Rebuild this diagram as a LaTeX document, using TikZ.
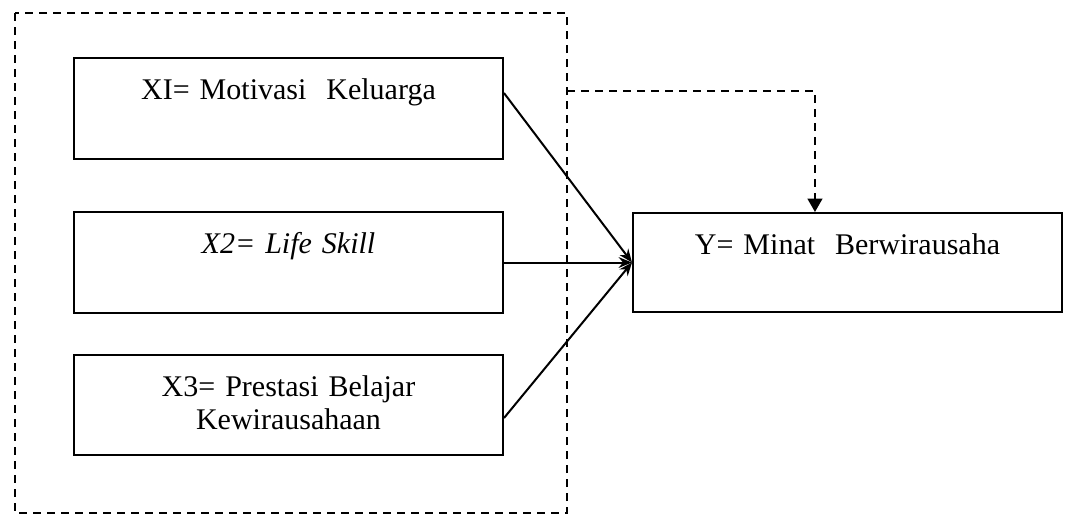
\documentclass[tikz,border=0pt]{standalone}
\usepackage{fontspec}
\setmainfont{Liberation Serif}
\usepackage{tikz}
\usetikzlibrary{arrows.meta}

\begin{document}
\begin{tikzpicture}[x=0.75pt, y=-0.75pt,
        box/.style={draw, line width=1.5pt, anchor=north west, inner sep=0pt,
            minimum width=321.75pt, text width=321.75pt, align=center,
            text height=30.75pt, text depth=45pt},
        frame/.style={draw, line width=1.5pt, dash pattern=on 6pt off 4.5pt},
        link/.style={line width=1.5pt, -{Stealth[length=10pt, width=8pt]}}]
        \useasboundingbox (0,0) rectangle (1066,515);
        \fontsize{22.5pt}{24.75pt}\selectfont

        \draw[frame] (15,13) rectangle (567,513);
        \coordinate (corner) at (567,91);

        \node[box] (x1) at (73,57) {XI= Motivasi\ \ Keluarga};
        \node[box] (x2) at (73,211) {\textit{X2= Life Skill}};
        \node[box, text depth=44.25pt] (x3) at (73,354) {X3= Prestasi Belajar\\ Kewirausahaan};
        \node[box, text depth=43.5pt] (y) at (632,212) {Y= Minat\ \ Berwirausaha};

        \draw[link] ([yshift=11.6pt]x1.east) to (y.west);
        \draw[link] (x2.east) to (y.west);
        \draw[link] ([yshift=-9.75pt]x3.east) to (y.west);
        \draw[frame, -{Triangle[length=10pt, width=11pt, sep=0pt]}] (corner) -| ([xshift=-24.4pt]y.north);
    \end{tikzpicture}
\end{document}
